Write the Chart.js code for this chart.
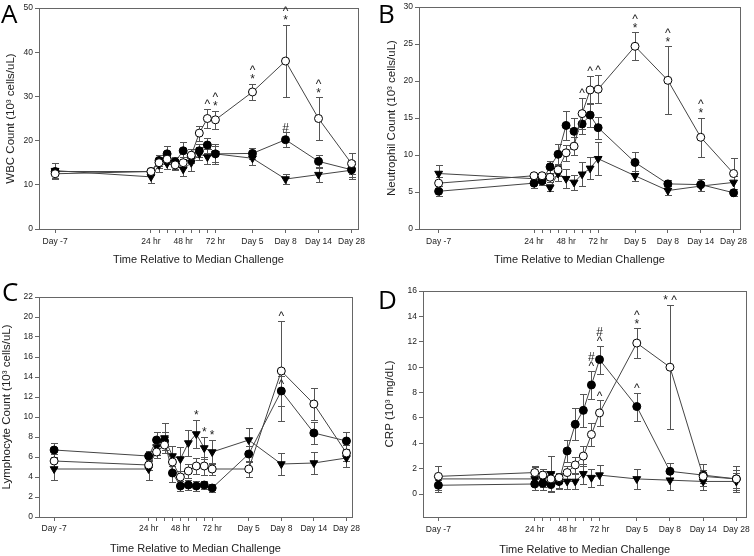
<!DOCTYPE html>
<html>
<head>
<meta charset="utf-8">
<script src="https://cdn.jsdelivr.net/npm/chart.js@4.4.1/dist/chart.umd.min.js"></script>
<style>
  body { margin: 0; background: #fff; }
  #wrap { position: relative; width: 754px; height: 556px; overflow: hidden; }
  .panel { position: absolute; }
  .letter { position: absolute; font-family: "Open Sans", sans-serif; font-size: 26px; line-height: 26px; color: #000; }
</style>
</head>
<body>
<div id="wrap">
  <canvas id="chartA" class="panel" width="377" height="278" style="left:0;top:0"></canvas>
  <canvas id="chartB" class="panel" width="377" height="278" style="left:377px;top:0"></canvas>
  <canvas id="chartC" class="panel" width="377" height="278" style="left:0;top:278px"></canvas>
  <canvas id="chartD" class="panel" width="377" height="278" style="left:377px;top:278px"></canvas>
  <div class="letter" style="left:1px;top:0">A</div>
  <div class="letter" style="left:378px;top:0">B</div>
  <div class="letter" style="left:2px;top:278px">C</div>
  <div class="letter" style="left:378px;top:286px">D</div>
</div>
<script>
// time points: Day -7, 24..72 hr every 6 hr, Day 5, 8, 14, 28
var timeLabels = ['Day -7', '24 hr', '', '', '', '48 hr', '', '', '', '72 hr', 'Day 5', 'Day 8', 'Day 14', 'Day 28'];
var timePos = [0, 11.9, 12.9, 13.9, 14.9, 15.9, 16.9, 17.9, 18.9, 19.9, 24.5, 28.6, 32.7, 36.8];

// A - WBC
var wbcTicks = [0, 10, 20, 30, 40, 50];
var wbcOpen = [12.5, 13.0, 15.0, 15.8, 14.5, 15.0, 16.7, 21.7, 25.0, 24.7, 31.0, 38.0, 25.0, 14.8];
var wbcOpenErr = [1.0, 0.8, 1.2, 1.0, 1.0, 1.2, 1.5, 1.7, 2.2, 2.0, 1.8, 8.2, 4.8, 2.3];
var wbcFilled = [13.0, 13.0, 15.5, 17.0, 15.2, 17.7, 16.5, 17.7, 19.0, 17.0, 17.1, 20.2, 15.3, 13.4];
var wbcFilledErr = [0.8, 0.8, 1.3, 1.7, 1.2, 1.9, 1.5, 1.5, 1.7, 2.2, 1.2, 1.7, 1.4, 2.0];
var wbcTri = [13.2, 11.8, 14.5, 14.8, 14.5, 13.5, 15.0, 17.0, 16.3, 17.0, 16.0, 11.3, 12.3, 13.3];
var wbcTriErr = [1.8, 1.3, 1.5, 1.3, 1.2, 1.6, 1.8, 1.5, 1.7, 1.8, 1.6, 1.1, 1.7, 1.5];
var wbcMarks = [
  { set: 0, idx: 8, marks: ['^'] }, { set: 0, idx: 9, marks: ['^', '*'] },
  { set: 0, idx: 10, marks: ['^', '*'] }, { set: 0, idx: 11, marks: ['^', '*'] },
  { set: 0, idx: 12, marks: ['^', '*'] }, { set: 1, idx: 11, marks: ['#'] }
];

// B - Neutrophil
var neuTicks = [0, 5, 10, 15, 20, 25, 30];
var neuOpen = [6.2, 7.2, 7.2, 7.0, 8.0, 10.3, 11.2, 15.6, 18.8, 18.9, 24.7, 20.1, 12.4, 7.5];
var neuOpenErr = [0.8, 0.4, 0.4, 0.6, 0.8, 1.1, 1.2, 2.1, 1.9, 1.9, 1.9, 4.6, 2.6, 2.1];
var neuFilled = [5.1, 6.2, 6.5, 8.4, 10.1, 14.0, 13.2, 14.2, 15.4, 13.7, 9.0, 6.1, 6.0, 4.9];
var neuFilledErr = [0.7, 0.6, 0.5, 0.8, 1.4, 1.9, 1.8, 1.4, 1.6, 1.5, 1.4, 0.5, 0.8, 0.5];
var neuTri = [7.5, 6.8, 6.6, 5.6, 7.5, 6.8, 6.3, 7.4, 8.2, 9.5, 7.2, 5.2, 5.8, 6.3];
var neuTriErr = [1.2, 0.4, 0.4, 0.5, 1.0, 1.3, 1.0, 1.6, 1.5, 2.2, 0.7, 0.6, 0.6, 0.9];
var neuMarks = [
  { set: 0, idx: 7, marks: ['^'] }, { set: 0, idx: 8, marks: ['^'] }, { set: 0, idx: 9, marks: ['^'] },
  { set: 0, idx: 10, marks: ['^', '*'] }, { set: 0, idx: 11, marks: ['^', '*'] }, { set: 0, idx: 12, marks: ['^', '*'] }
];

// C - Lymphocyte
var lymTicks = [0, 2, 4, 6, 8, 10, 12, 14, 16, 18, 20, 22];
var lymOpen = [5.6, 5.2, 6.5, 7.2, 5.5, 4.0, 4.6, 5.1, 5.1, 4.8, 4.8, 14.6, 11.3, 6.4];
var lymOpenErr = [0.7, 0.5, 0.6, 0.8, 0.8, 0.6, 0.7, 0.8, 0.9, 0.6, 0.8, 5.0, 1.6, 0.8];
var lymFilled = [6.7, 6.1, 7.7, 7.6, 4.4, 3.1, 3.2, 3.1, 3.2, 2.9, 6.3, 12.6, 8.4, 7.6];
var lymFilledErr = [0.7, 0.5, 0.8, 0.9, 0.9, 0.5, 0.5, 0.5, 0.4, 0.4, 0.8, 1.5, 1.1, 0.9];
var lymTri = [4.8, 4.8, 7.0, 7.9, 6.1, 5.8, 7.4, 8.3, 6.9, 6.5, 7.7, 5.3, 5.4, 5.9];
var lymTriErr = [1.1, 1.1, 0.8, 1.5, 1.0, 1.2, 1.3, 1.4, 1.1, 1.2, 1.2, 1.1, 1.1, 0.9];
var lymMarks = [
  { set: 2, idx: 7, marks: ['*'] }, { set: 2, idx: 8, marks: ['*'] }, { set: 2, idx: 9, marks: ['*'] },
  { set: 0, idx: 11, marks: ['^'] }, { set: 1, idx: 11, marks: ['^'], atPoint: true }
];

// D - CRP
var crpTicks = [0, 2, 4, 6, 8, 10, 12, 14, 16];
var crpOpen = [1.4, 1.7, 1.5, 1.2, 1.3, 1.7, 2.3, 3.0, 4.7, 6.4, 11.9, 10.0, 1.4, 1.2];
var crpOpenErr = [0.8, 0.5, 0.5, 0.5, 0.4, 0.5, 0.6, 0.8, 0.9, 1.0, 1.15, 4.9, 0.5, 1.0];
var crpFilled = [0.7, 0.8, 0.85, 0.75, 1.0, 3.4, 5.5, 6.6, 8.6, 10.6, 6.9, 1.8, 1.5, 1.2];
var crpFilledErr = [0.4, 0.5, 0.5, 0.5, 0.5, 0.9, 1.25, 1.3, 1.1, 1.1, 1.1, 0.65, 0.85, 0.7];
var crpTri = [1.2, 1.2, 1.2, 1.6, 1.0, 1.0, 1.0, 1.6, 1.3, 1.5, 1.2, 1.1, 1.0, 1.0];
var crpTriErr = [1.0, 0.9, 0.6, 1.4, 0.6, 0.6, 0.6, 0.8, 0.7, 0.8, 0.8, 0.8, 0.7, 0.7];
var crpMarks = [
  { set: 1, idx: 8, marks: ['#', '^'] }, { set: 1, idx: 9, marks: ['#', '^'] },
  { set: 0, idx: 9, marks: ['^'] }, { set: 0, idx: 10, marks: ['^', '*'] },
  { set: 1, idx: 10, marks: ['^'] }, { set: 0, idx: 11, marks: ['* ^'] }
];

var FONT = '"Liberation Sans", Arial, sans-serif';

var errorBars = {
  id: 'errorBars',
  beforeDatasetsDraw: function (chart) {
    var ctx = chart.ctx, xs = chart.scales.x, ys = chart.scales.y;
    ctx.save();
    ctx.strokeStyle = '#555';
    ctx.lineWidth = 1;
    chart.data.datasets.forEach(function (ds) {
      ds.data.forEach(function (pt, i) {
        var x = Math.round(xs.getPixelForValue(pt.x)) + 0.5;
        var top = Math.round(ys.getPixelForValue(pt.y + ds.err[i])) + 0.5;
        var bot = Math.round(ys.getPixelForValue(pt.y - ds.err[i])) + 0.5;
        ctx.beginPath();
        ctx.moveTo(x, top); ctx.lineTo(x, bot);
        ctx.moveTo(x - 3.5, top); ctx.lineTo(x + 3.5, top);
        ctx.moveTo(x - 3.5, bot); ctx.lineTo(x + 3.5, bot);
        ctx.stroke();
      });
    });
    ctx.restore();
  },
  afterDatasetsDraw: function (chart) {
    var ctx = chart.ctx, a = chart.chartArea;
    ctx.save();
    ctx.strokeStyle = '#666';
    ctx.lineWidth = 1;
    ctx.strokeRect(Math.round(a.left) + 0.5, Math.round(a.top) + 0.5, Math.round(a.right - a.left), Math.round(a.bottom - a.top));
    // significance marks
    var xs = chart.scales.x, ys = chart.scales.y;
    ctx.fillStyle = '#222';
    ctx.font = '12px ' + FONT;
    ctx.textAlign = 'center';
    ctx.textBaseline = 'middle';
    (chart.options.plugins.errorBars.marks || []).forEach(function (m) {
      var ds = chart.data.datasets[m.set];
      var pt = ds.data[m.idx];
      var x = xs.getPixelForValue(pt.x);
      var base = m.atPoint ? ys.getPixelForValue(pt.y) - 6 : ys.getPixelForValue(pt.y + ds.err[m.idx]) - 4;
      var stack = m.marks.slice().reverse();
      stack.forEach(function (t, k) {
        ctx.fillText(t, x, base - k * 9);
      });
    });
    ctx.restore();
  }
};

function series(vals) {
  return vals.map(function (v, i) { return { x: timePos[i], y: v }; });
}

function datasets(open, openErr, filled, filledErr, tri, triErr) {
  var line = { borderColor: '#444', borderWidth: 1, tension: 0, pointBorderColor: '#000', pointBorderWidth: 1 };
  return [
    Object.assign({ label: 'open', data: series(open), err: openErr, pointStyle: 'circle', pointRadius: 4, pointBackgroundColor: '#fff' }, line),
    Object.assign({ label: 'filled', data: series(filled), err: filledErr, pointStyle: 'circle', pointRadius: 4, pointBackgroundColor: '#000' }, line),
    Object.assign({ label: 'tri', data: series(tri), err: triErr, pointStyle: 'triangle', pointRotation: 180, pointRadius: 4.5, pointBackgroundColor: '#000' }, line)
  ];
}

function makeChart(p) {
  var ctx = document.getElementById(p.id).getContext('2d');
  return new Chart(ctx, {
    type: 'line',
    data: { datasets: p.sets },
    plugins: [errorBars],
    options: {
      responsive: false,
      animation: false,
      layout: { padding: { left: 0, top: p.top, right: 377 - p.right, bottom: 0 } },
      plugins: { legend: { display: false }, tooltip: { enabled: false }, errorBars: { marks: p.marks } },
      scales: {
        x: {
          type: 'linear', min: p.xMin, max: p.xMax,
          afterBuildTicks: function (scale) { scale.ticks = timePos.map(function (v) { return { value: v }; }); },
          afterFit: function (scale) { scale.height = 278 - p.bottom; },
          border: { color: '#666' },
          grid: { drawOnChartArea: false, drawTicks: true, tickLength: 4, color: '#666' },
          ticks: {
            autoSkip: false, maxRotation: 0, padding: p.xPad, color: '#222',
            font: { family: FONT, size: 8.5 },
            callback: function (v, i) { return timeLabels[i]; }
          },
          title: { display: true, text: 'Time Relative to Median Challenge', color: '#222', font: { family: FONT, size: 11 }, padding: { top: 0, bottom: p.xTitlePad } }
        },
        y: {
          min: p.yMin, max: p.yMax,
          afterBuildTicks: function (scale) { scale.ticks = p.yTicks.map(function (v) { return { value: v }; }); },
          afterFit: function (scale) { scale.width = p.left; },
          border: { color: '#666' },
          grid: { drawOnChartArea: false, drawTicks: true, tickLength: 4, color: '#666' },
          ticks: { padding: 2, color: '#222', font: { family: FONT, size: 8.5 } },
          title: { display: true, text: p.yTitle, color: '#222', font: { family: FONT, size: 11.5 }, padding: { top: p.yTitlePad, bottom: 0 } }
        }
      }
    }
  });
}

var panels = [
  { id: 'chartA', left: 39, right: 358, top: 8, bottom: 229, xMin: -2.0, xMax: 37.6, yMin: 0, yMax: 50, yTicks: wbcTicks,
    xPad: 4, xTitlePad: 11, yTitlePad: 4, yTitle: 'WBC Count (10³ cells/uL)',
    sets: datasets(wbcOpen, wbcOpenErr, wbcFilled, wbcFilledErr, wbcTri, wbcTriErr), marks: wbcMarks },
  { id: 'chartB', left: 42, right: 363, top: 7, bottom: 229, xMin: -2.45, xMax: 37.6, yMin: 0, yMax: 30, yTicks: neuTicks,
    xPad: 4, xTitlePad: 11, yTitlePad: 8, yTitle: 'Neutrophil Count (10³ cells/uL)',
    sets: datasets(neuOpen, neuOpenErr, neuFilled, neuFilledErr, neuTri, neuTriErr), marks: neuMarks },
  { id: 'chartC', left: 39, right: 352, top: 19, bottom: 239, xMin: -1.9, xMax: 37.5, yMin: 0, yMax: 22, yTicks: lymTicks,
    xPad: 3, xTitlePad: 0, yTitlePad: 0, yTitle: 'Lymphocyte Count (10³ cells/uL)',
    sets: datasets(lymOpen, lymOpenErr, lymFilled, lymFilledErr, lymTri, lymTriErr), marks: lymMarks },
  { id: 'chartD', left: 46, right: 372, top: 13, bottom: 239, xMin: -1.9, xMax: 38.05, yMin: -1.8, yMax: 16, yTicks: crpTicks,
    xPad: 4, xTitlePad: -1, yTitlePad: 6, yTitle: 'CRP (10³ mg/dL)',
    sets: datasets(crpOpen, crpOpenErr, crpFilled, crpFilledErr, crpTri, crpTriErr), marks: crpMarks }
];

panels.forEach(makeChart);
</script>
</body>
</html>
